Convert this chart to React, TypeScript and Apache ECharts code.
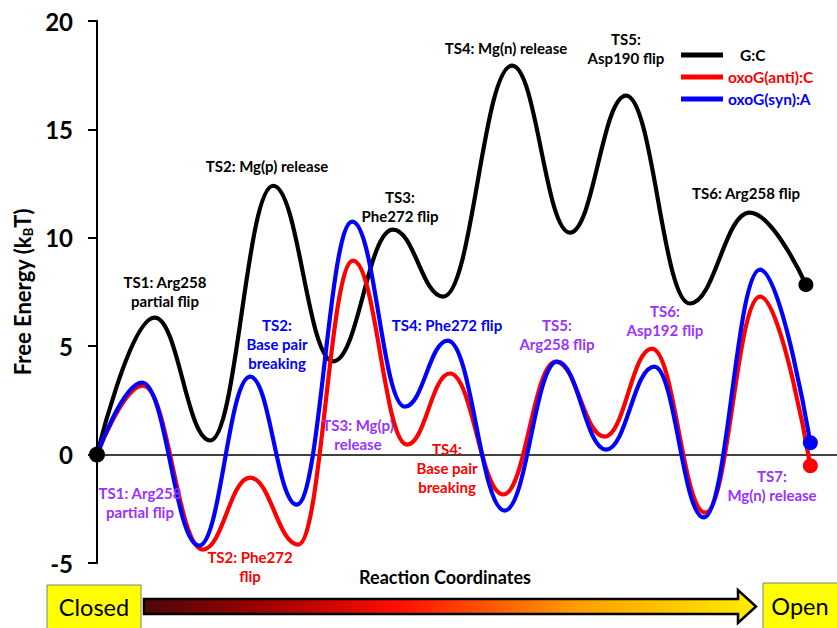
import React, { useEffect, useRef } from "react";
import * as echarts from "echarts";

// ---- Data (reaction coordinate, free energy in kBT) ----
const seriesNames = ["G:C", "oxoG(anti):C", "oxoG(syn):A"];
const seriesColors = ["#000000", "#ff0000", "#0000ff"];

const xGC = [0, 7.8, 15.3, 23.8, 31.9, 40.0, 46.8, 56.1, 63.9, 71.5, 80.1, 88.2, 95.8];
const yGC = [0, 6.32, 0.65, 12.4, 4.3, 10.38, 7.29, 17.94, 10.24, 16.56, 6.97, 11.16, 7.84];

const xAnti = [0, 6.2, 14.3, 20.7, 27.2, 34.6, 41.9, 47.7, 54.9, 62.0, 68.6, 75.0, 82.2, 89.6, 96.4];
const yAnti = [0, 3.18, -4.38, -1.06, -4.15, 8.95, 0.46, 3.74, -1.84, 4.29, 0.83, 4.89, -2.68, 7.29, -0.51];

const xSyn = [0, 6.1, 13.8, 20.7, 27.0, 34.5, 41.6, 47.4, 55.1, 62.2, 68.8, 75.3, 82.0, 89.6, 96.4];
const ySyn = [0, 3.32, -4.2, 3.6, -2.31, 10.75, 2.21, 5.26, -2.58, 4.29, 0.23, 4.06, -2.9, 8.53, 0.55];

const yMin = -5;
const yMax = 20;
const yStep = 5;

// ---- Annotation texts ----
const blackNotes = [
  "TS1: Arg258\npartial flip",
  "TS2: Mg(p) release",
  "TS3:\nPhe272 flip",
  "TS4: Mg(n) release",
  "TS5:\nAsp190 flip",
  "TS6: Arg258 flip",
];
const blueNotes = ["TS2:\nBase pair\nbreaking", "TS4: Phe272 flip"];
const purpleNotes = [
  "TS1: Arg258\npartial flip",
  "TS3: Mg(p)\nrelease",
  "TS5:\nArg258 flip",
  "TS6:\nAsp192 flip",
  "TS7:\nMg(n) release",
];
const redNotes = ["TS2: Phe272\nflip", "TS4:\nBase pair\nbreaking"];

// layout positions (pixel centers) for annotations
const blackPos = [[165, 291], [267, 166], [400, 206], [506, 48], [626, 48], [746, 193]];
const bluePos = [[277, 344], [447, 325]];
const purplePos = [[140, 502], [358, 434], [557, 334], [665, 320], [772, 485]];
const redPos = [[250, 566], [447, 468]];

const FONT = "Lato, 'Open Sans', sans-serif";
const PURPLE = "#9933ff";

function buildData(xs: number[], ys: number[], withEnd: boolean) {
  return xs.map((x, i) => {
    const isEnd = withEnd && i === xs.length - 1;
    return isEnd
      ? { value: [x, ys[i]], symbol: "circle", symbolSize: 15 }
      : { value: [x, ys[i]], symbol: "none" };
  });
}

function noteTexts(texts: string[], pos: number[][], color: string) {
  return texts.map((t, i) => ({
    type: "text",
    x: pos[i][0],
    y: pos[i][1],
    z: 20,
    style: {
      text: t,
      fill: color,
      fontSize: 15,
      fontWeight: "bold",
      fontFamily: FONT,
      align: "center",
      verticalAlign: "middle",
      lineHeight: 19,
    },
  }));
}

export default function App() {
  const ref = useRef<HTMLDivElement>(null);

  useEffect(() => {
    if (!ref.current) return;
    const chart = echarts.init(ref.current, null, { renderer: "svg" });

    const xsList = [xGC, xAnti, xSyn];
    const ysList = [yGC, yAnti, ySyn];

    const lineSeries = seriesNames.map((name, k) => ({
      name,
      type: "line",
      data: buildData(xsList[k], ysList[k], true),
      smooth: 0.42,
      smoothMonotone: "x",
      showSymbol: true,
      lineStyle: { color: seriesColors[k], width: 4.2 },
      itemStyle: { color: seriesColors[k], opacity: 1 },
      color: seriesColors[k],
      z: 3 + k,
    }));

    const option: any = {
      animation: false,
      backgroundColor: "#ffffff",
      grid: { left: 97, right: 0, top: 21, bottom: 65 },
      legend: {
        orient: "vertical",
        left: 676,
        top: 42,
        itemWidth: 42,
        itemHeight: 5,
        itemGap: 6,
        itemTextGap: 13,
        icon: "rect",
        data: seriesNames.map((n, k) => ({
          name: n,
          textStyle: {
            color: seriesColors[k],
            fontSize: 15.5,
            fontWeight: "bold",
            fontFamily: FONT,
            padding: k === 0 ? [0, 0, 0, 12] : 0,
          },
        })),
      },
      xAxis: {
        type: "value",
        min: 0,
        max: 100,
        axisLine: { onZero: true, lineStyle: { color: "#000", width: 1.5 } },
        axisTick: { show: false },
        axisLabel: { show: false },
        splitLine: { show: false },
      },
      yAxis: {
        type: "value",
        min: yMin,
        max: yMax,
        interval: yStep,
        name: "{n|Free Energy (k}{s|B}{n|T)}",
        nameLocation: "middle",
        nameGap: 58,
        nameRotate: 90,
        nameTextStyle: {
          rich: {
            n: { fontSize: 22, fontWeight: "bold", fontFamily: FONT, color: "#000", lineHeight: 30 },
            s: { fontSize: 13, fontWeight: "bold", fontFamily: FONT, color: "#000", lineHeight: 30, padding: [11, 0, 0, 0] },
          },
        },
        axisLine: { show: true, onZero: false, lineStyle: { color: "#000", width: 2 } },
        axisTick: { show: true, length: 9, lineStyle: { color: "#000", width: 2 } },
        axisLabel: {
          color: "#000",
          fontSize: 24,
          fontWeight: "bold",
          fontFamily: FONT,
          margin: 24,
        },
        splitLine: { show: false },
      },
      series: [
        ...lineSeries,
        {
          name: "start",
          type: "scatter",
          data: [[xGC[0], yGC[0]]],
          symbolSize: 16,
          itemStyle: { color: "#000", opacity: 1 },
          z: 10,
        },
      ],
      graphic: [
        ...noteTexts(blackNotes, blackPos, "#000000"),
        ...noteTexts(blueNotes, bluePos, "#0000ff"),
        ...noteTexts(purpleNotes, purplePos, PURPLE),
        ...noteTexts(redNotes, redPos, "#ff0000"),
        {
          type: "text",
          x: 445,
          y: 577,
          style: {
            text: "Reaction Coordinates",
            fill: "#000",
            fontSize: 18,
            fontWeight: "bold",
            fontFamily: FONT,
            align: "center",
            verticalAlign: "middle",
          },
        },
        {
          type: "rect",
          shape: { x: 47, y: 585, width: 94, height: 50 },
          style: { fill: "#ffff00", stroke: "#7f7f7f", lineWidth: 1 },
        },
        {
          type: "text",
          x: 94,
          y: 607,
          style: {
            text: "Closed",
            fill: "#000",
            fontSize: 23.5,
            fontFamily: FONT,
            align: "center",
            verticalAlign: "middle",
          },
        },
        {
          type: "rect",
          shape: { x: 763, y: 583, width: 90, height: 50 },
          style: { fill: "#ffff00", stroke: "#7f7f7f", lineWidth: 1 },
        },
        {
          type: "text",
          x: 800,
          y: 606,
          style: {
            text: "Open",
            fill: "#000",
            fontSize: 23.5,
            fontFamily: FONT,
            align: "center",
            verticalAlign: "middle",
          },
        },
        {
          type: "polygon",
          shape: {
            points: [
              [144, 599],
              [738, 599],
              [738, 590],
              [756, 606.5],
              [738, 623],
              [738, 614],
              [144, 614],
            ],
          },
          style: {
            fill: {
              type: "linear",
              x: 0,
              y: 0,
              x2: 1,
              y2: 0,
              colorStops: [
                { offset: 0, color: "#4d0808" },
                { offset: 0.2, color: "#a00000" },
                { offset: 0.42, color: "#ff1000" },
                { offset: 0.7, color: "#ff9a00" },
                { offset: 1, color: "#ffee00" },
              ],
            },
            stroke: "#000",
            lineWidth: 2.5,
          },
        },
      ],
    };

    chart.setOption(option);
    return () => chart.dispose();
  }, []);

  return (
    <div
      ref={ref}
      style={{ position: "fixed", left: 0, top: 0, width: 837, height: 628, background: "#fff" }}
    />
  );
}
